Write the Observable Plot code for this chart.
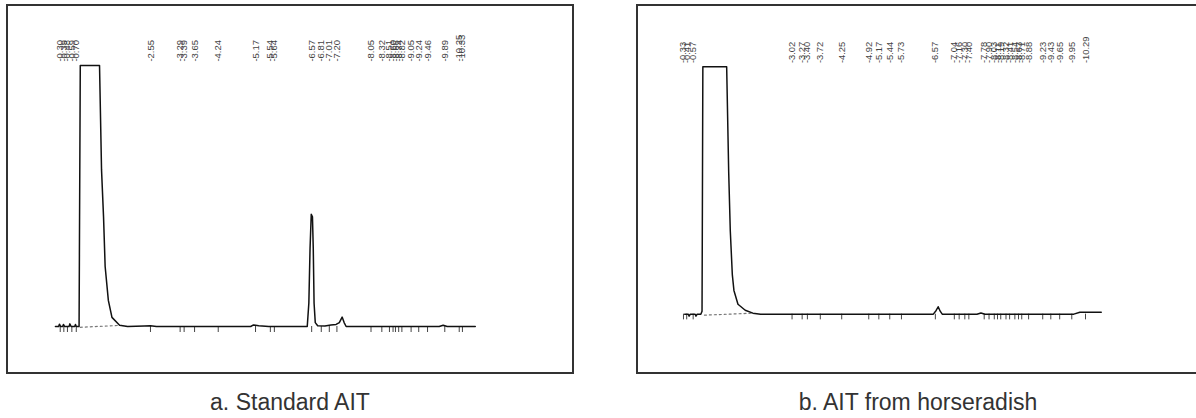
<!DOCTYPE html>
<html>
<head>
<meta charset="utf-8">
<script src="https://cdn.jsdelivr.net/npm/d3@7"></script>
<script src="https://cdn.jsdelivr.net/npm/@observablehq/plot@0.6"></script>
<style>
  html, body { margin: 0; padding: 0; background: #fff; }
  body { width: 1196px; height: 418px; overflow: hidden; position: relative; font-family: "Liberation Sans", Arial, sans-serif; }
  .frame { position: absolute; box-sizing: border-box; border: 2px solid #333; }
  .plot { position: absolute; }
  .caption { position: absolute; top: 391px; font-size: 23px; line-height: 23px; color: #333; text-align: center; white-space: nowrap; }
</style>
</head>
<body>
<div class="frame" style="left:6px;top:4px;width:568px;height:370px;"></div>
<div class="frame" style="left:636px;top:4px;width:570px;height:370px;"></div>
<div id="pa" class="plot" style="left:7px;top:5px;"></div>
<div id="pb" class="plot" style="left:637px;top:5px;"></div>
<div class="caption" style="left:140px;width:300px;">a. Standard AIT</div>
<div class="caption" style="left:768px;width:300px;">b. AIT from horseradish</div>
<script>
// ---- Panel a: Standard AIT ----
const timesA = [0.18,0.26,0.28,0.31,0.36,0.38,0.41,0.52,0.54,0.57,0.66,0.68,0.70,0.77,0.80,1.28,1.33,1.38,1.42,1.50,1.59,1.78,1.98,2.40,2.55,2.70,5.05,5.12,5.25,5.50,6.46,6.50,6.53,6.56,6.59,6.61,6.63,6.66,6.72,6.90,7.05,7.18,7.26,7.33,7.38,7.43,9.75,9.85,9.95,10.65];
const signalA = [0,0,0.9,0,0,0.8,0,0,1.0,0,0,0.8,0,0,100,100,60,42,23,10,3.5,0.5,0,0.2,0.3,0,0,0.6,0.3,0,0,9,30,43,42,30,9,1.5,0.3,0.2,0.6,0.8,1.5,3.6,1.5,0,0,0.5,0,0];
const peakLabelsA = [0.30,0.39,0.48,0.59,0.70,2.55,3.29,3.39,3.65,4.24,5.17,5.54,5.64,6.57,6.81,7.01,7.20,8.05,8.32,8.51,8.60,8.66,8.74,8.82,9.05,9.24,9.46,9.89,10.25,10.33];
const dashTimesA = [0.80,1.75];
const dashSignalA = [-0.3,0.4];

// ---- Panel b: AIT from horseradish ----
const timesB = [0.36,0.45,0.47,0.50,0.62,0.64,0.67,0.76,0.79,0.81,1.40,1.45,1.49,1.54,1.58,1.68,1.86,2.05,2.24,6.52,6.59,6.64,6.69,6.74,7.60,7.70,7.80,10.00,10.15,10.68];
const signalB = [0,0,-0.8,0,0,-0.8,0,0,1.2,100,100,57.6,33.6,16,9.6,4,1.6,0.4,0,0,1.5,3,1.2,0,0,0.5,0,0,0.8,0.8];
const peakLabelsB = [0.33,0.41,0.57,3.02,3.27,3.40,3.72,4.25,4.92,5.17,5.44,5.73,6.57,7.04,7.16,7.30,7.40,7.78,7.90,8.03,8.11,8.19,8.32,8.41,8.54,8.63,8.71,8.88,9.23,9.43,9.65,9.95,10.29];
const dashTimesB = [0.85,2.05];
const dashSignalB = [-0.4,0.4];

const labelLevel = 101.5;
const tickDepth = -2.3;

function chromatogram({times, signal, labels, dashT, dashS, width, height, marginLeft, marginRight, marginTop, marginBottom}) {
  const trace = times.map((t, i) => ({t, s: signal[i]}));
  const dash = dashT.map((t, i) => ({t, s: dashS[i]}));
  const lab = labels.map(t => ({t, text: "-" + t.toFixed(2)}));
  return Plot.plot({
    width, height, marginLeft, marginRight, marginTop, marginBottom,
    x: {domain: [0, 12], axis: null},
    y: {domain: [0, 100], axis: null},
    style: {background: "transparent", overflow: "visible"},
    marks: [
      Plot.line(dash, {x: "t", y: "s", stroke: "#777", strokeWidth: 1.2, strokeDasharray: "2,3"}),
      Plot.ruleX(lab, {x: "t", y1: 0, y2: tickDepth, stroke: "#444", strokeWidth: 1}),
      Plot.line(trace, {x: "t", y: "s", stroke: "#111", strokeWidth: 1.5}),
      Plot.text(lab, {x: "t", y: () => labelLevel, text: "text", rotate: -90, textAnchor: "start", lineAnchor: "middle", fontSize: 9.5, fill: "#444", fontFamily: "Liberation Sans, Arial, sans-serif"})
    ]
  });
}

document.getElementById("pa").appendChild(chromatogram({
  times: timesA, signal: signalA, labels: peakLabelsA, dashT: dashTimesA, dashS: dashSignalA,
  width: 566, height: 368, marginLeft: 40.7, marginRight: 44.1, marginTop: 60, marginBottom: 47
}));
document.getElementById("pb").appendChild(chromatogram({
  times: timesB, signal: signalB, labels: peakLabelsB, dashT: dashTimesB, dashS: dashSignalB,
  width: 565, height: 368, marginLeft: 33, marginRight: 42.4, marginTop: 62, marginBottom: 56
}));
</script>
</body>
</html>
